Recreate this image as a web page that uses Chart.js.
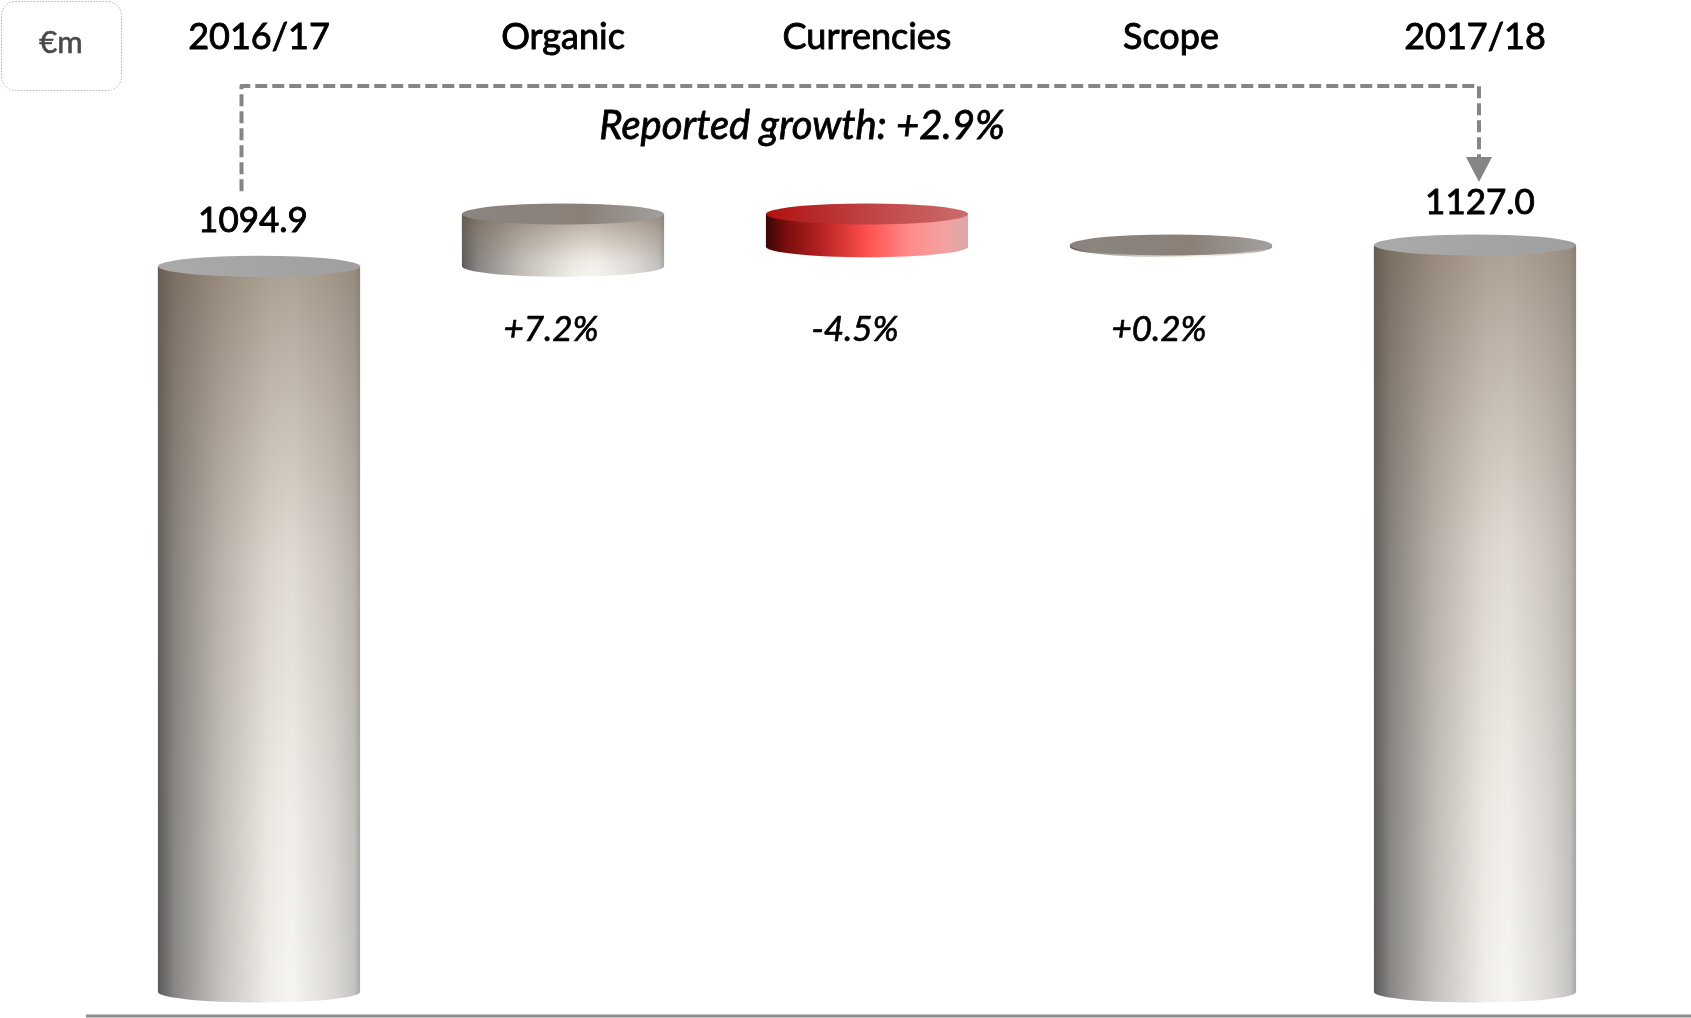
<!DOCTYPE html>
<html lang="en">
  <head>
    <meta charset="UTF-8" />
    <title>Sales bridge 2016/17 - 2017/18</title>
    <style>
      html, body { margin: 0; padding: 0; background: #fff; overflow: hidden; }
      canvas { display: block; }
    </style>
  </head>
  <body>
    <canvas id="chart" width="1691" height="1018"></canvas>

    <script src="https://cdn.jsdelivr.net/npm/chart.js"></script>
<script>
      // data (€m)
      const categories = ["2016/17", "Organic", "Currencies", "Scope", "2017/18"];
      const startValue = 1094.9;
      const endValue = 1127.0;
      const changes = [78.8, -49.3, 2.6]; // organic, currencies, scope
      const changeLabels = ["+7.2%", "-4.5%", "+0.2%"];
      const totalLabels = ["1094.9", "1127.0"];
      const growthLabel = "Reported growth: +2.9%";
      const unitLabel = "€m";

      // floating bars for the bridge
      const ranges = [[0, startValue]];
      let running = startValue;
      changes.forEach((c) => {
        ranges.push([running, running + c]);
        running += c;
      });
      ranges.push([0, endValue]);

      const FONT = "Lato, 'Noto Sans', sans-serif";

      function sideGradient(ctx, left, right, kind) {
        const g = ctx.createLinearGradient(left, 0, right, 0);
        if (kind === "red") {
          g.addColorStop(0, "#3a0505");
          g.addColorStop(0.1, "#7a0d0d");
          g.addColorStop(0.3, "#bf2626");
          g.addColorStop(0.5, "#ff5050");
          g.addColorStop(0.72, "#ff8c8c");
          g.addColorStop(0.9, "#f2a2a2");
          g.addColorStop(1, "#d6a9a9");
        } else {
          g.addColorStop(0, "#5a5a5a");
          g.addColorStop(0.08, "#888684");
          g.addColorStop(0.3, "#c4c0bb");
          g.addColorStop(0.55, "#f1eee9");
          g.addColorStop(0.66, "#f7f5f1");
          g.addColorStop(0.86, "#dedbd7");
          g.addColorStop(0.97, "#c6c4c1");
          g.addColorStop(1, "#a8a8a8");
        }
        return g;
      }

      function topGradient(ctx, left, right, kind) {
        const g = ctx.createLinearGradient(left, 0, right, 0);
        if (kind === "red") {
          g.addColorStop(0, "#b01010");
          g.addColorStop(0.5, "#bf4343");
          g.addColorStop(1, "#cc6c6c");
        } else if (kind === "total") {
          g.addColorStop(0, "#aaaaaa");
          g.addColorStop(1, "#9f9f9f");
        } else {
          g.addColorStop(0, "#8a8480");
          g.addColorStop(0.6, "#8a8078");
          g.addColorStop(1, "#a3a09d");
        }
        return g;
      }

      // draws each bar as a cylinder
      const cylinders = {
        id: "cylinders",
        afterDatasetsDraw(chart) {
          const ctx = chart.ctx;
          const meta = chart.getDatasetMeta(0);
          meta.data.forEach((el, i) => {
            const p = el.getProps(["x", "y", "base", "width"], true);
            const top = Math.min(p.y, p.base);
            const bot = Math.max(p.y, p.base);
            const rx = p.width / 2;
            const ry = 10.5;
            const left = p.x - rx;
            const right = p.x + rx;
            let kind = "gray";
            if (i === 0 || i === meta.data.length - 1) kind = "total";
            else if (changes[i - 1] < 0) kind = "red";

            ctx.save();
            // side
            ctx.beginPath();
            ctx.moveTo(left, top);
            ctx.lineTo(left, bot);
            ctx.ellipse(p.x, bot, rx, ry, 0, Math.PI, 0, true);
            ctx.lineTo(right, top);
            ctx.closePath();
            ctx.fillStyle = sideGradient(ctx, left, right, kind);
            ctx.fill();
            if (kind !== "red") {
              const v = ctx.createLinearGradient(0, top, 0, bot + ry);
              const mid = kind === "total" ? 0.2 : 0.3;
              v.addColorStop(0, "rgba(112,92,72,0.55)");
              v.addColorStop(0.4, "rgba(130,110,90," + mid + ")");
              v.addColorStop(0.75, "rgba(130,110,90,0.05)");
              v.addColorStop(1, "rgba(130,110,90,0)");
              ctx.fillStyle = v;
              ctx.fill();
            }
            // top
            ctx.beginPath();
            ctx.ellipse(p.x, top, rx, ry, 0, 0, Math.PI * 2);
            ctx.fillStyle = topGradient(ctx, left, right, kind);
            ctx.fill();
            ctx.restore();
          });
        },
      };

      // text with a hairline stroke so it reads as heavy as the original
      function boldText(ctx, t, x, y) {
        ctx.fillText(t, x, y);
        ctx.strokeText(t, x, y);
      }

      // labels, connector, unit box and baseline
      const annotations = {
        id: "annotations",
        afterDraw(chart) {
          const ctx = chart.ctx;
          const xs = chart.scales.x;
          const meta = chart.getDatasetMeta(0);
          const n = categories.length;
          ctx.save();

          // baseline
          ctx.strokeStyle = "#8c8c8c";
          ctx.lineWidth = 3;
          ctx.beginPath();
          ctx.moveTo(86, 1016);
          ctx.lineTo(chart.width, 1016);
          ctx.stroke();

          // unit box
          ctx.setLineDash([1.5, 1.5]);
          ctx.strokeStyle = "#b0b0b0";
          ctx.lineWidth = 1;
          ctx.beginPath();
          ctx.roundRect(1.5, 1.5, 120, 89, 14);
          ctx.stroke();
          ctx.setLineDash([]);
          ctx.fillStyle = "#4a4a4a";
          ctx.strokeStyle = "#4a4a4a";
          ctx.lineWidth = 0.6;
          ctx.font = "31px " + FONT;
          ctx.textAlign = "center";
          ctx.textBaseline = "middle";
          boldText(ctx, unitLabel, 61, 43);

          // category names along the top
          ctx.fillStyle = "#000";
          ctx.strokeStyle = "#000";
          ctx.lineWidth = 0.9;
          ctx.font = "36px " + FONT;
          categories.forEach((c, i) => {
            boldText(ctx, c, xs.getPixelForValue(i), 37);
          });

          // totals above the end cylinders
          const firstTop = Math.min(meta.data[0].y, meta.data[0].base);
          const lastEl = meta.data[n - 1];
          const lastTop = Math.min(lastEl.y, lastEl.base);
          ctx.font = "35px " + FONT;
          boldText(ctx, totalLabels[0], meta.data[0].x - 6, firstTop - 46);
          boldText(ctx, totalLabels[1], lastEl.x + 5, lastTop - 42);

          // change percentages
          ctx.lineWidth = 0.7;
          ctx.font = "italic 35px " + FONT;
          changeLabels.forEach((t, i) => {
            boldText(ctx, t, xs.getPixelForValue(i + 1) - 12, 330);
          });

          // reported growth text
          ctx.lineWidth = 0.8;
          ctx.font = "italic 40px " + FONT;
          boldText(ctx, growthLabel, (xs.getPixelForValue(2) + xs.getPixelForValue(1)) / 2 + 87, 126);

          // dashed connector with arrow
          const xa = meta.data[0].x - 17.5;
          const xb = lastEl.x + 4;
          const yLine = 86;
          ctx.strokeStyle = "#858585";
          ctx.lineWidth = 4;
          ctx.setLineDash([12, 5]);
          ctx.lineJoin = "round";
          ctx.beginPath();
          ctx.moveTo(xa, firstTop - 75);
          ctx.lineTo(xa, yLine);
          ctx.lineTo(xb, yLine);
          ctx.lineTo(xb, lastTop - 80);
          ctx.stroke();
          ctx.setLineDash([]);
          ctx.fillStyle = "#858585";
          ctx.beginPath();
          ctx.moveTo(xb - 13, lastTop - 88);
          ctx.lineTo(xb + 13, lastTop - 88);
          ctx.lineTo(xb, lastTop - 63);
          ctx.closePath();
          ctx.fill();

          ctx.restore();
        },
      };

      const ctx = document.getElementById("chart").getContext("2d");
      const chart = new Chart(ctx, {
        type: "bar",
        data: {
          labels: categories,
          datasets: [
            {
              data: ranges,
              backgroundColor: "rgba(0,0,0,0)",
              borderWidth: 0,
              barPercentage: 0.665,
              categoryPercentage: 1,
            },
          ],
        },
        options: {
          responsive: false,
          animation: false,
          layout: {
            padding: { left: 107, right: 64, top: 64, bottom: 26 },
          },
          plugins: {
            legend: { display: false },
            tooltip: { enabled: false },
          },
          scales: {
            x: { display: false },
            y: { display: false, min: 0, max: 1400 },
          },
        },
        plugins: [cylinders, annotations],
      });
    </script>
  </body>
</html>
